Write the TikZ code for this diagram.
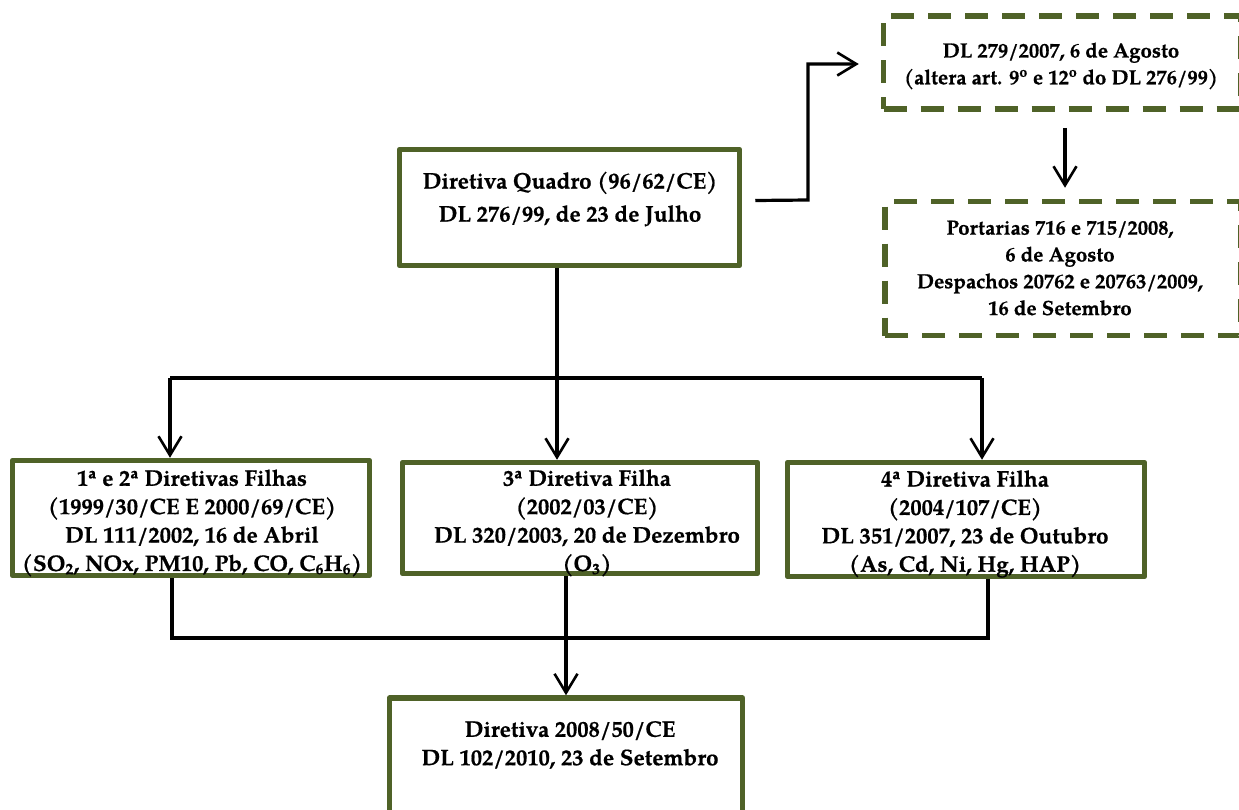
\documentclass[tikz,border=0pt]{standalone}
\usepackage{fontspec}
\setmainfont{texgyrepagella}[Extension=.otf,UprightFont=*-regular,BoldFont=*-bold,ItalicFont=*-italic,BoldItalicFont=*-bolditalic,BoldFeatures={FakeBold=0.6}]
\usetikzlibrary{arrows.meta,calc}
\definecolor{boxgreen}{RGB}{79,98,40}
\begin{document}
\begin{tikzpicture}[x=1pt,y=-1pt,
  box/.style={draw=boxgreen,line width=5.5pt,rectangle,inner sep=0pt,fill=white,line join=round},
  dbox/.style={box,line width=5.5pt,dash pattern=on 23pt off 14pt,line join=miter},
  txt/.style={align=center,font=\bfseries\fontsize{22.5}{28.4}\selectfont,inner sep=0pt},
  dtxt/.style={txt,font=\bfseries\fontsize{20.5}{26.8}\selectfont},
  conn/.style={line width=3.2pt,draw=black},
  arr/.style={conn,-{Straight Barb[length=19pt,width=23pt,line width=2.6pt]}}]
\useasboundingbox (0,0) rectangle (1239,809);
\fill[white] (0,0) rectangle (1239,809);
% boxes
\node[box,minimum width=340pt,minimum height=116pt] (q) at (569.5,207.5) {};
\node[dbox,minimum width=357pt,minimum height=93pt] (d1) at (1062,62.5) {};
\node[dbox,minimum width=356pt,minimum height=134pt] (d2) at (1063,268.5) {};
\node[box,minimum width=357pt,minimum height=115pt] (l) at (191,518) {};
\node[box,minimum width=355pt,minimum height=111pt] (m) at (580,518) {};
\node[box,minimum width=357pt,minimum height=114pt] (r) at (966,519.5) {};
\node[box,minimum width=353pt,minimum height=120pt] (b) at (566,758) {};
% texts
\node[txt,font=\bfseries\fontsize{22.5}{33}\selectfont] (qt) at (570,199) {Diretiva Quadro (96/62/CE)\\DL 276/99, de 23 de Julho};
\node[dtxt] (d1t) at (1061,66) {DL 279/2007, 6 de Agosto\\(altera art. 9\textsuperscript{o} e 12\textsuperscript{o} do DL 276/99)};
\node[dtxt] (d2t) at (1060,268) {Portarias 716 e 715/2008,\\6 de Agosto\\Despachos 20762 e 20763/2009,\\16 de Setembro};
\node[txt] (lt) at (192,523) {1\textsuperscript{a} e 2\textsuperscript{a} Diretivas Filhas\\(1999/30/CE E 2000/69/CE)\\DL 111/2002, 16 de Abril\\(SO\textsubscript{2}, NOx, PM10, Pb, CO, C\textsubscript{6}H\textsubscript{6})};
\node[txt] (mt) at (587,523) {3\textsuperscript{a} Diretiva Filha\\(2002/03/CE)\\DL 320/2003, 20 de Dezembro\\(O\textsubscript{3})};
\node[txt] (rt) at (965,524) {4\textsuperscript{a} Diretiva Filha\\(2004/107/CE)\\DL 351/2007, 23 de Outubro\\(As, Cd, Ni, Hg, HAP)};
\node[txt] (bt) at (570,745) {Diretiva 2008/50/CE\\DL 102/2010, 23 de Setembro};
% coordinates
\coordinate (qs) at ([xshift=13pt,yshift=7pt]q.east);
\coordinate (e1) at (808,200);
\coordinate (j1) at (557,378);
\coordinate (jl) at (170,378);
\coordinate (jr) at (982,378);
\coordinate (k) at (566,638);
\coordinate (kl) at (172,638);
\coordinate (kr) at (988,638);
% connectors
\draw[arr] (qs) -- (e1) |- ([xshift=-22pt,yshift=-1.5pt]d1.west);
\draw[arr] ([xshift=3pt,yshift=-16pt]d1.south) -- ([xshift=2pt,yshift=11pt]d2.north);
\draw[conn] (q.south -| j1) -- (j1);
\draw[conn] (jl) -- (jr);
\draw[arr] (jl) -- (jl |- l.north);
\draw[arr] (j1) -- (j1 |- m.north);
\draw[arr] (jr) -- (jr |- r.north);
\draw[conn] (l.south -| kl) -- (kl) -- (kr) -- (r.south -| kr);
\draw[arr] (m.south -| k) -- (k |- b.north);
\end{tikzpicture}
\end{document}
